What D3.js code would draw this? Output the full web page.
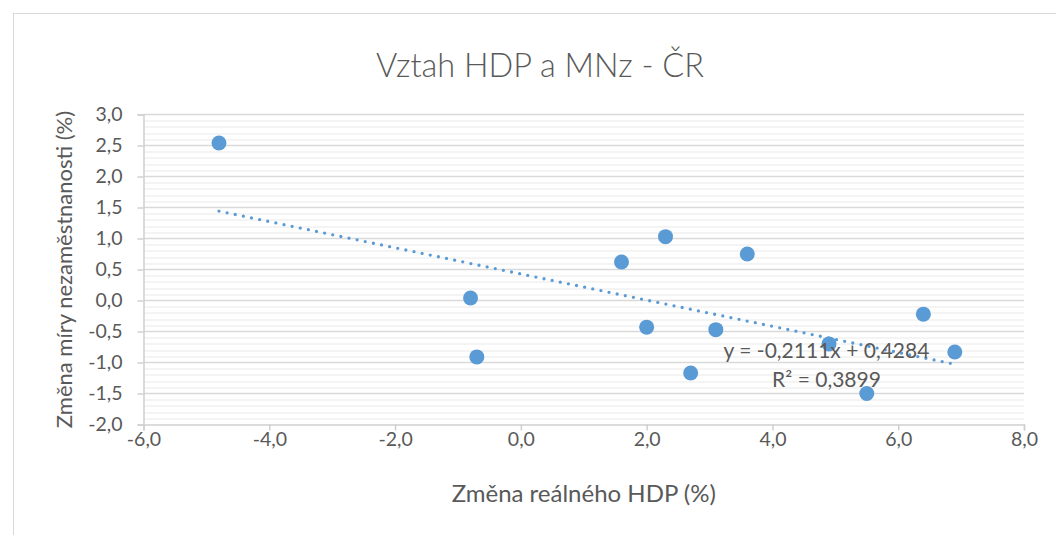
<!DOCTYPE html>
<html>
<head>
<meta charset="utf-8">
<script src="https://cdn.jsdelivr.net/npm/d3@7"></script>
<style>
  body { margin: 0; background: #fff; }
  svg { display: block; font-family: Lato, "Open Sans", sans-serif; }
</style>
</head>
<body>
<svg class="chart"></svg>
<script>
// změna reálného HDP (%) vs změna míry nezaměstnanosti (%)
const hdpChange = [-4.8, -0.8, -0.7, 1.6, 2.0, 2.3, 2.7, 3.1, 3.6, 4.9, 5.5, 6.4, 6.9];
const mnzChange = [2.54, 0.04, -0.91, 0.62, -0.43, 1.03, -1.17, -0.47, 0.75, -0.70, -1.50, -0.22, -0.83];
const xTicks = [-6, -4, -2, 0, 2, 4, 6, 8];
const yTicks = [-2, -1.5, -1, -0.5, 0, 0.5, 1, 1.5, 2, 2.5, 3];
const trendSlope = -0.2111;
const trendIntercept = 0.4284;
const trendR2 = 0.3899;

function drawChart() {
  const spec = {
    width: 1056, height: 535,
    margin: { top: 114.5, left: 143.5, right: 32, bottom: 110.5 }
  };
  const innerW = spec.width - spec.margin.left - spec.margin.right;
  const innerH = spec.height - spec.margin.top - spec.margin.bottom;
  const textColor = "#595959";
  const blue = "#5b9bd5";

  const locale = d3.formatLocale({ decimal: ",", thousands: " ", grouping: [3], currency: ["", " Kč"], minus: "-" });
  const fmt = locale.format(".1f");

  const svg = d3.select(".chart").attr("width", spec.width).attr("height", spec.height);

  // chart frame
  svg.append("rect")
    .attr("x", 13.5).attr("y", 13.5)
    .attr("width", 1100).attr("height", 600)
    .attr("fill", "#fff").attr("stroke", "#d9d9d9");

  svg.append("text")
    .attr("x", 540).attr("y", 77)
    .attr("text-anchor", "middle")
    .attr("fill", textColor)
    .style("font-size", "32.5px").style("font-weight", 300)
    .text("Vztah HDP a MNz - ČR");

  const g = svg.append("g").attr("transform", `translate(${spec.margin.left},${spec.margin.top})`);

  const x = d3.scaleLinear().domain([-6, 8]).range([0, innerW]);
  const y = d3.scaleLinear().domain([-2, 3]).range([innerH, 0]);

  // minor gridlines (0.1 step)
  const minor = d3.range(-20, 31).map(v => v / 10).filter(v => Math.round(v * 10) % 5 !== 0);
  g.append("g").selectAll("line").data(minor).join("line")
    .attr("x1", 0).attr("x2", innerW)
    .attr("y1", d => Math.round(y(d)) + 0.5).attr("y2", d => Math.round(y(d)) + 0.5)
    .attr("stroke", "#f0f0f0").attr("stroke-width", 1.3);

  // major gridlines
  g.append("g").selectAll("line").data(yTicks.filter(v => v !== -2)).join("line")
    .attr("x1", 0).attr("x2", innerW)
    .attr("y1", d => y(d)).attr("y2", d => y(d))
    .attr("stroke", "#d9d9d9").attr("stroke-width", 1.5);

  // axes
  const yAxis = g.append("g")
    .call(d3.axisLeft(y).tickValues(yTicks).tickFormat(fmt).tickSize(6).tickPadding(15));
  const xAxis = g.append("g").attr("transform", `translate(0,${innerH})`)
    .call(d3.axisBottom(x).tickValues(xTicks).tickFormat(fmt).tickSize(6).tickPadding(2));
  [xAxis, yAxis].forEach(a => {
    a.select(".domain").attr("stroke", "#d0d0d0").attr("stroke-width", 1.5);
    a.selectAll(".tick line").attr("stroke", "#d0d0d0").attr("stroke-width", 1.5);
    a.selectAll("text").attr("fill", textColor).style("font-size", "19.5px").style("font-family", "Lato, sans-serif");
  });

  // trendline
  const xMin = d3.min(hdpChange), xMax = d3.max(hdpChange);
  const trend = [xMin, xMax].map(v => [v, trendSlope * v + trendIntercept]);
  g.append("path")
    .datum(trend)
    .attr("d", d3.line().x(d => x(d[0])).y(d => y(d[1])))
    .attr("fill", "none")
    .attr("stroke", blue).attr("stroke-width", 3.3)
    .attr("stroke-linecap", "round")
    .attr("stroke-dasharray", "0 8.3");

  // points
  g.append("g").selectAll("circle").data(hdpChange).join("circle")
    .attr("cx", d => x(d))
    .attr("cy", (d, i) => y(mnzChange[i]))
    .attr("r", 7.5)
    .attr("fill", blue);

  // trendline label
  const lbl = g.append("text")
    .attr("text-anchor", "middle")
    .attr("fill", textColor)
    .style("font-size", "21px");
  lbl.append("tspan").attr("x", 683).attr("y", 243)
    .text(`y = ${locale.format(".4f")(trendSlope)}x + ${locale.format(".4f")(trendIntercept)}`);
  lbl.append("tspan").attr("x", 683).attr("y", 272)
    .text(`R² = ${locale.format(".4f")(trendR2)}`);

  // axis titles
  svg.append("text")
    .attr("x", spec.margin.left + innerW / 2).attr("y", 502)
    .attr("text-anchor", "middle").attr("fill", textColor)
    .style("font-size", "24px")
    .text("Změna reálného HDP (%)");
  svg.append("text")
    .attr("transform", `translate(72,${spec.margin.top + innerH / 2}) rotate(-90)`)
    .attr("text-anchor", "middle").attr("fill", textColor)
    .style("font-size", "22px")
    .text("Změna míry nezaměstnanosti (%)");
}

drawChart();
</script>
</body>
</html>
